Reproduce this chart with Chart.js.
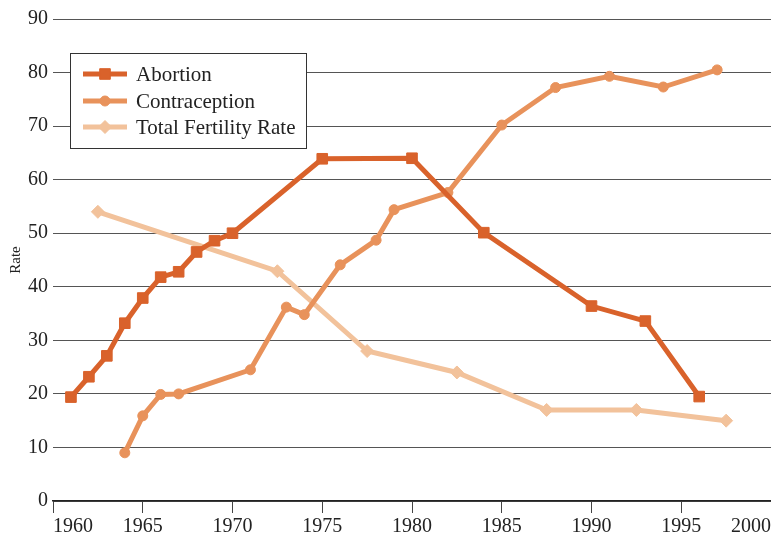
<!DOCTYPE html>
<html>
<head>
<meta charset="utf-8">
<script src="https://cdn.jsdelivr.net/npm/chart.js@4.4.1/dist/chart.umd.min.js"></script>
<style>
  html, body { margin: 0; padding: 0; background: #fff; }
  #wrap { width: 771px; height: 539px; position: relative; }
</style>
</head>
<body>
<div id="wrap"><canvas id="c" width="771" height="539"></canvas></div>
<script>
// ---- Data ----
const abortionYears = [1961, 1962, 1963, 1964, 1965, 1966, 1967, 1968, 1969, 1970, 1975, 1980, 1984, 1990, 1993, 1996];
const abortionValues = [19.4, 23.2, 27.1, 33.2, 37.9, 41.8, 42.8, 46.5, 48.6, 50.0, 63.9, 64.0, 50.1, 36.4, 33.6, 19.5];

const contraceptionYears = [1964, 1965, 1966, 1967, 1971, 1973, 1974, 1976, 1978, 1979, 1982, 1985, 1988, 1991, 1994, 1997];
const contraceptionValues = [9.0, 15.9, 19.9, 20.0, 24.5, 36.2, 34.8, 44.1, 48.7, 54.4, 57.6, 70.2, 77.2, 79.3, 77.3, 80.5];

const tfrYears = [1962.5, 1972.5, 1977.5, 1982.5, 1987.5, 1992.5, 1997.5];
const tfrValues = [54.0, 42.9, 28.0, 24.0, 17.0, 17.0, 15.0];

const seriesLabels = ['Abortion', 'Contraception', 'Total Fertility Rate'];
const xTickLabels = [1960, 1965, 1970, 1975, 1980, 1985, 1990, 1995, 2000];
const yTickLabels = [0, 10, 20, 30, 40, 50, 60, 70, 80, 90];

const colors = ['#d9622b', '#e8925b', '#f2c29b'];
const pointStyles = ['rect', 'circle', 'rectRot'];
const pointRadii = [7.5, 5, 6.5];

function pts(xs, ys) { return xs.map((x, i) => ({ x: x, y: ys[i] })); }

const FONT = "'Liberation Serif', 'DejaVu Serif', serif";

// Custom in-chart legend
const boxLegend = {
  id: 'boxLegend',
  afterDraw(chart) {
    const ctx = chart.ctx;
    const x0 = 70.5, y0 = 53.5, w = 236, h = 95;
    ctx.save();
    ctx.fillStyle = '#fff';
    ctx.fillRect(x0, y0, w, h);
    ctx.strokeStyle = '#333';
    ctx.lineWidth = 1;
    ctx.strokeRect(x0, y0, w, h);
    const rowY = [74, 101, 127];
    chart.data.datasets.forEach((ds, i) => {
      const y = rowY[i];
      ctx.strokeStyle = ds.borderColor;
      ctx.lineWidth = 5;
      ctx.beginPath();
      ctx.moveTo(83, y);
      ctx.lineTo(127, y);
      ctx.stroke();
      ctx.fillStyle = ds.backgroundColor;
      ctx.strokeStyle = ds.borderColor;
      ctx.lineWidth = 1;
      Chart.helpers.drawPoint(ctx, { pointStyle: ds.pointStyle, radius: ds.pointRadius, borderWidth: 1 }, 105, y);
      ctx.fillStyle = '#222';
      ctx.font = '21px ' + FONT;
      ctx.textAlign = 'left';
      ctx.textBaseline = 'middle';
      ctx.fillText(ds.label, 136, y + 1);
    });
    ctx.restore();
  }
};

const datasets = [
  pts(abortionYears, abortionValues),
  pts(contraceptionYears, contraceptionValues),
  pts(tfrYears, tfrValues)
].map((data, i) => ({
  label: seriesLabels[i],
  data: data,
  borderColor: colors[i],
  backgroundColor: colors[i],
  borderWidth: 5,
  pointStyle: pointStyles[i],
  pointRadius: pointRadii[i],
  pointBorderWidth: 1,
  pointHoverRadius: pointRadii[i],
  tension: 0,
  fill: false,
  clip: false
}));

new Chart(document.getElementById('c'), {
  type: 'line',
  data: { datasets: datasets },
  plugins: [boxLegend],
  options: {
    responsive: false,
    animation: false,
    layout: { autoPadding: false, padding: { top: 19, right: 0, bottom: 0, left: 0 } },
    plugins: {
      legend: { display: false },
      tooltip: { enabled: false },
      title: { display: false }
    },
    scales: {
      x: {
        type: 'linear',
        min: xTickLabels[0],
        max: xTickLabels[xTickLabels.length - 1],
        afterBuildTicks(scale) { scale.ticks = xTickLabels.map(v => ({ value: v })); },
        ticks: {
          autoSkip: false,
          maxRotation: 0,
          align: 'inner',
          padding: 2,
          color: '#222',
          font: { family: FONT, size: 20 },
          callback: v => String(v)
        },
        grid: {
          drawOnChartArea: false,
          drawTicks: true,
          tickLength: 12,
          color: '#444',
          lineWidth: 1
        },
        border: { display: true, color: '#222', width: 1.5 },
        afterFit(scale) {
          scale.height = 38;
          scale.paddingLeft = 0;
          scale.paddingRight = 0;
        }
      },
      y: {
        min: 0,
        max: 90,
        afterBuildTicks(scale) { scale.ticks = yTickLabels.map(v => ({ value: v })); },
        ticks: {
          padding: 5,
          color: '#222',
          font: { family: FONT, size: 20 }
        },
        grid: {
          drawTicks: false,
          color: '#555',
          lineWidth: 1
        },
        border: { display: false },
        title: {
          display: true,
          text: 'Rate',
          color: '#222',
          font: { family: FONT, size: 15 },
          padding: { top: 7, bottom: 0 }
        },
        afterFit(scale) {
          scale.width = 53;
          scale.paddingTop = 0;
          scale.paddingBottom = 0;
        }
      }
    }
  }
});
</script>
</body>
</html>
